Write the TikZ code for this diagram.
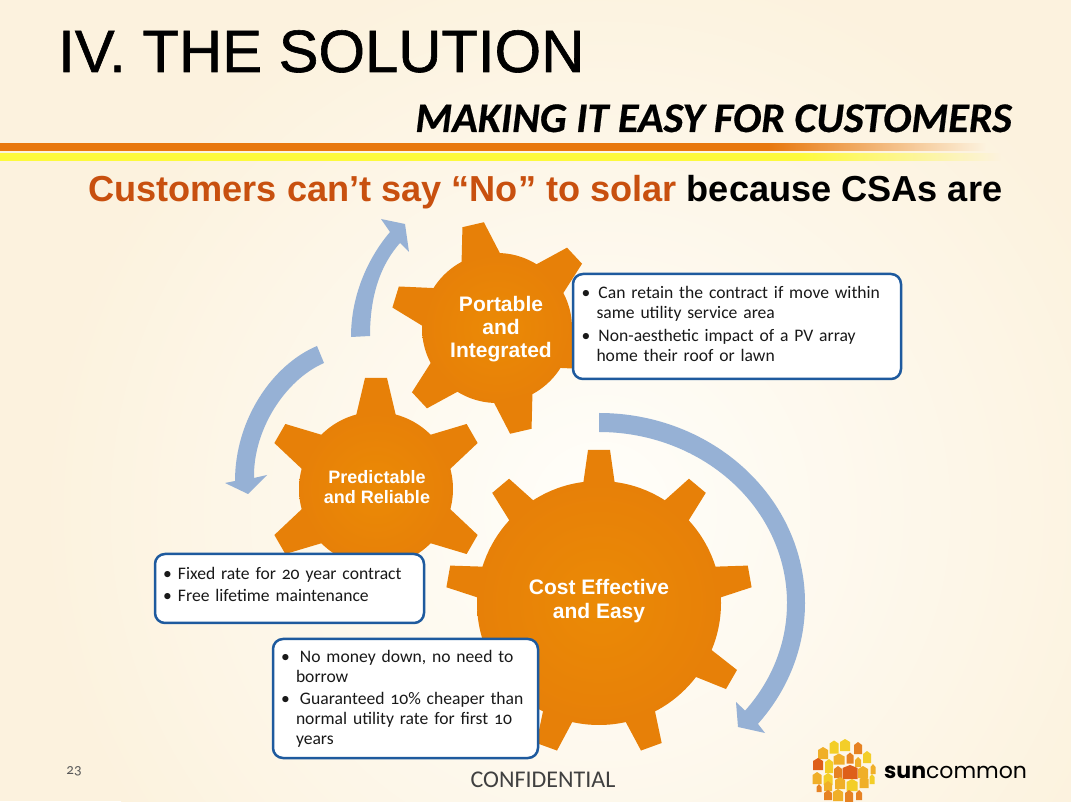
\documentclass[tikz,border=0pt]{standalone}
\usepackage{fontspec}
\setmainfont{Liberation Sans}
\newfontfamily\titlefont[FakeBold=1]{Liberation Sans}
\newfontfamily\bodyfont[Numbers=OldStyle]{Carlito}
\newfontfamily\subtitlefont[FakeBold=0.5]{Carlito}
\newfontfamily\logofont{Poppins}
\usetikzlibrary{calc,positioning}
\definecolor{bgcream}{RGB}{252,242,222}
\definecolor{bgpale}{RGB}{255,254,250}
\definecolor{gearorange}{RGB}{231,128,8}
\definecolor{gearlight}{RGB}{235,138,5}
\definecolor{arrowblue}{RGB}{150,177,213}
\definecolor{boxblue}{RGB}{30,90,158}
\definecolor{rustred}{RGB}{200,80,15}
\definecolor{barorange}{RGB}{232,120,14}
\definecolor{baryellow}{RGB}{253,250,60}
\definecolor{hyel}{RGB}{243,206,40}
\definecolor{hgold}{RGB}{240,175,40}
\definecolor{horg}{RGB}{230,130,35}
\definecolor{hdeep}{RGB}{222,95,25}
\pgfdeclarehorizontalshading{orangefade}{100bp}{color(0bp)=(barorange); color(64bp)=(barorange); color(75bp)=(bgcream); color(100bp)=(bgcream)}
\pgfdeclarehorizontalshading{yellowfade}{100bp}{color(0bp)=(baryellow); color(65bp)=(baryellow); color(75bp)=(bgcream); color(100bp)=(bgcream)}
\tikzset{
  geartext/.style={text=white,font=\bfseries,align=center,inner sep=0pt},
  boxnode/.style={draw=boxblue,line width=2.5pt,rounded corners=10pt,fill=white,minimum width=#1,
    font=\bodyfont\fontsize{17.6}{20}\selectfont,align=left,text=black!90,inner sep=0pt},
  arrowband/.style={fill=arrowblue},
  housefill/.style={fill=#1}
}
% one gear: tooth base width, centre x, centre y, body radius, tip radius, tooth angles
\newcommand{\gearat}[6][20]{
  \shade[inner color=gearlight,outer color=gearorange] (#2,#3) circle (#4);
  \foreach \a in {#6}
  \fill[gearorange,shift={(#2,#3)},rotate=\a] (#4-4,-#1)--(#5,-11)--(#5,11)--(#4-4,#1)--cycle;
}
\newcommand{\bul}[1]{\makebox[#1][l]{•}}
\newcommand{\hang}[1]{\hspace*{#1}}
\begin{document}
\begin{tikzpicture}[x=1pt,y=1pt]
\useasboundingbox (0,0) rectangle (1071,801);
\fill[bgcream] (0,0) rectangle (1071,801);
\begin{scope}
\clip (0,0) rectangle (1071,801);
\shade[inner color=bgpale,outer color=bgcream] (600,290) circle (560);
\end{scope}
% bars
\shade[shading=orangefade] (0,650) rectangle (985,657);
\shade[shading=yellowfade] (0,640) rectangle (1000,647);
% titles
\node[anchor=base west,inner sep=0pt,font=\titlefont\fontsize{59.8}{70}\selectfont] (title) at (58,729) {IV. THE SOLUTION};
\node[anchor=base east,inner sep=0pt,font=\subtitlefont\bfseries\itshape\fontsize{42.2}{48}\selectfont] (subtitle) at (1012,669) {MAKING IT EASY FOR CUSTOMERS};
\node[anchor=base west,inner sep=0pt,font=\bfseries\fontsize{36.15}{42}\selectfont] (headline) at (88,599) {\textcolor{rustred}{Customers can’t say “No” to solar} because CSAs are};
% gears
\gearat[16]{599}{198}{122}{153}{90,130,170,210,250,290,330,10,50}
\gearat{376}{312}{77}{111}{30,90,150,210,270,330}
\gearat{497}{473}{75}{106}{43,103,163,223,283,343}
\node[geartext,font=\bfseries\fontsize{21}{23.5}\selectfont] (costgear) at (599,200) {Cost Effective\\and Easy};
\node[geartext,font=\bfseries\fontsize{18}{20}\selectfont] (reliablegear) at (377,314) {Predictable\\and Reliable};
\node[geartext,font=\bfseries\fontsize{21}{23}\selectfont] (portablegear) at (501,472) {Portable\\and\\Integrated};
% arrows
\fill[arrowband] (599,388) arc[start angle=90,end angle=-39.5,x radius=206,y radius=190]
  --(765,68)--(738,74)--(736,99)--({599+188*cos(39)},{198-171*sin(39)})
  arc[start angle=-39,end angle=90,x radius=188,y radius=171]--cycle;
\fill[arrowband] (351,464) .. controls (351,506) and (368,543) .. (390,569)
  --(381,582)--(405,577)--(409,549)--(400,558) .. controls (376,531) and (370,496) .. (370,465)--cycle;
\fill[arrowband] (317,455) .. controls (272,436) and (235,381) .. (235,320)
  --(225,318)--(248,307)--(267,326)--(254,323) .. controls (253,371) and (285,421) .. (324,438)--cycle;
% boxes
\node[boxnode=328pt,minimum height=105pt,text width=311pt] (portablebox) at (737,474.5)
  {\bul{17pt}Can retain the contract if move within\\\hang{15pt}same utility service area\\[3pt]\bul{17pt}Non-aesthetic impact of a PV array\\\hang{15pt}home their roof or lawn\par\vspace*{6pt}};
\node[boxnode=269pt,minimum height=69pt,text width=253pt] (reliablebox) at (289.5,212.5)
  {\bul{15pt}Fixed rate for 20 year contract\\[2pt]\bul{15pt}Free lifetime maintenance\par\vspace*{9pt}};
\node[boxnode=265pt,minimum height=119pt,text width=249pt] (costbox) at (405.5,102.5)
  {\bul{19pt}No money down, no need to\\\hang{15pt}borrow\\[2pt]\bul{19pt}Guaranteed 10\% cheaper than\\\hang{15pt}normal utility rate for first 10\\\hang{15pt}years};
% footer
\node[inner sep=0pt,font=\bodyfont\fontsize{15}{18}\selectfont,text=black!65] (pagenum) at (74,30) {23};
\node[inner sep=0pt,font=\bodyfont\fontsize{24}{28}\selectfont,text=black!75] (confidential) at (543,21) {CONFIDENTIAL};
% logo
\foreach \x/\y/\w/\h/\c in {834/747/4.5/6.5/hyel,845/745/5/6/hyel,858/748/4/6/horg,823/753/5/6/hgold,867/757/4/6/hyel,839/759/5.5/5.5/hgold,850/758/3.5/5.5/horg,858/762/3/5/hgold,818/764/5/6/hdeep,829/766/4/7/hyel,838/772/4/6/horg,850/772/7.5/7/hdeep,863/772/5/6/hgold,873/769/2.5/5/hgold,817/778/4.5/6/hgold,828/779/4.5/6/hyel,840/783/5/6/hgold,852/785/5.5/6/hyel,864/782/4.5/6/hgold,872/779/2.5/5/hyel,819/788/2.5/4/horg,828/786/4/5/hgold,828/795/4/5/horg,838/795/5/6/hgold,849/796/4/6/horg,859/795/3/5/horg}
\fill[housefill=\c,shift={(\x,801-\y)}] (-\w,-\h)--(-\w,\h-3)--(0,\h)--(\w,\h-3)--(\w,-\h)--cycle;
\node[anchor=base west,inner sep=0pt,font=\logofont\fontsize{22}{26}\selectfont] (logotext) at (884,23) {{\bfseries sun}common};
\end{tikzpicture}
\end{document}
